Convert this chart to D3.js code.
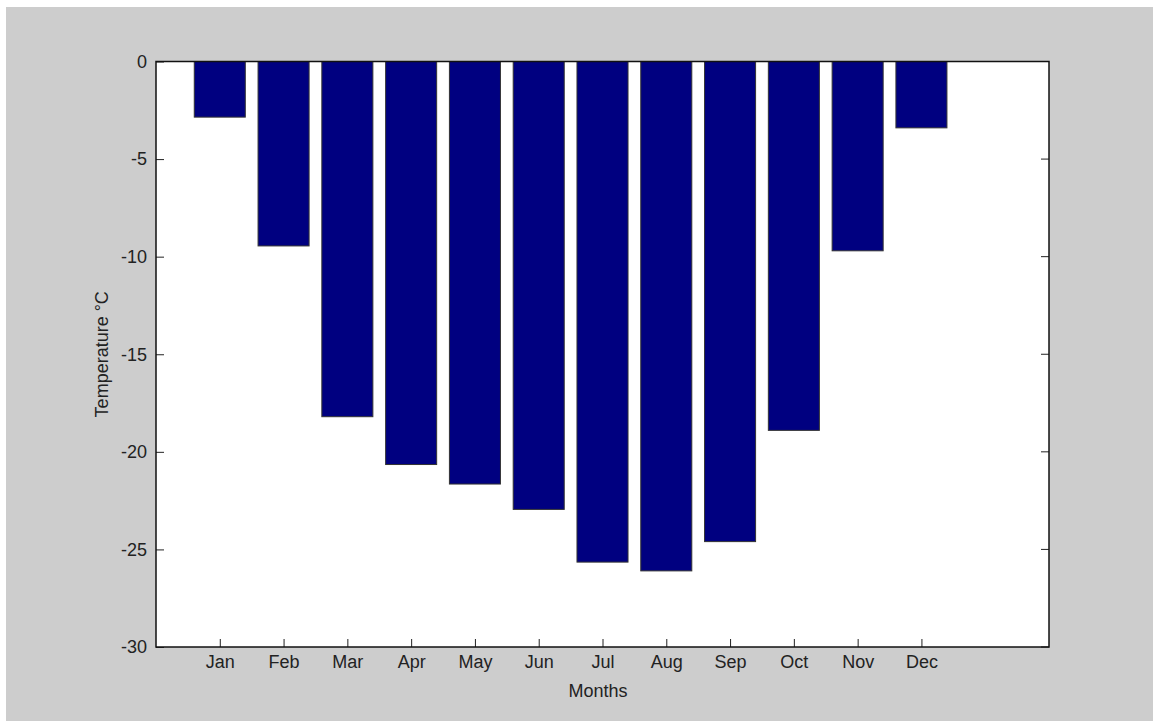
<!DOCTYPE html>
<html>
<head>
<meta charset="utf-8">
<script src="https://cdn.jsdelivr.net/npm/d3@7"></script>
<style>
  body { margin: 0; background: #fff; }
  svg { display: block; }
  text { font-family: "Liberation Sans", Arial, sans-serif; fill: #222; }
</style>
</head>
<body>
<div id="viz"></div>
<script>
const months = ['Jan', 'Feb', 'Mar', 'Apr', 'May', 'Jun', 'Jul', 'Aug', 'Sep', 'Oct', 'Nov', 'Dec'];
const temps = [-2.85, -9.45, -18.2, -20.65, -21.65, -22.95, -25.65, -26.1, -24.6, -18.9, -9.7, -3.4];
const yTicks = [0, -5, -10, -15, -20, -25, -30];

const width = 1153;
const height = 721;
const margin = {top: 61.5, right: 104, bottom: 74, left: 156};

const svg = d3.select('#viz')
    .append('svg')
    .attr('width', width)
    .attr('height', height);

// grey figure background (white strip top/left like the screenshot)
svg.append('rect')
    .attr('x', 6).attr('y', 7)
    .attr('width', width - 6).attr('height', height - 7)
    .attr('fill', '#cdcdcd');

// x positions 1..12 on a 0..14 axis
const x = d3.scaleLinear()
    .domain([0, 14])
    .range([margin.left, width - margin.right]);

const y = d3.scaleLinear()
    .domain([-30, 0])
    .range([height - margin.bottom, margin.top]);

const barW = (x(1) - x(0)) * 0.8;
const tickLen = 8;

// plot area
svg.append('rect')
    .attr('x', x(0)).attr('y', y(0))
    .attr('width', x(14) - x(0)).attr('height', y(-30) - y(0))
    .attr('fill', '#fff');

// top ticks sit under the bars
svg.append('g')
    .selectAll('line')
    .data(months)
    .join('line')
    .attr('x1', (d, i) => x(i + 1)).attr('x2', (d, i) => x(i + 1))
    .attr('y1', y(0)).attr('y2', y(0) + tickLen)
    .attr('stroke', '#222');

// bars
svg.append('g')
    .selectAll('rect')
    .data(temps)
    .join('rect')
    .attr('x', (d, i) => x(i + 1) - barW / 2)
    .attr('y', y(0))
    .attr('width', barW)
    .attr('height', d => y(d) - y(0))
    .attr('fill', '#000080')
    .attr('stroke', '#333')
    .attr('stroke-width', 1);

// bottom axis, ticks pointing in
const xAxis = svg.append('g')
    .attr('transform', `translate(0, ${y(-30)})`)
    .call(d3.axisBottom(x)
        .tickValues(d3.range(1, 13))
        .tickFormat(d => months[d - 1])
        .tickSizeInner(-tickLen)
        .tickSizeOuter(0)
        .tickPadding(8));
xAxis.select('.domain').remove();
xAxis.selectAll('.tick line').attr('stroke', '#222');
xAxis.selectAll('.tick text')
    .style('font-size', '18px')
    .attr('font-family', null);

// left axis, plain hyphen minus like the original
const yAxis = svg.append('g')
    .attr('transform', `translate(${x(0)}, 0)`)
    .call(d3.axisLeft(y)
        .tickValues(yTicks)
        .tickFormat(d => String(d))
        .tickSizeInner(-tickLen)
        .tickSizeOuter(0)
        .tickPadding(9));
yAxis.select('.domain').remove();
yAxis.selectAll('.tick line').attr('stroke', '#222');
yAxis.selectAll('.tick text')
    .style('font-size', '18px')
    .attr('font-family', null);

// right side ticks
svg.append('g')
    .selectAll('line')
    .data(yTicks)
    .join('line')
    .attr('x1', x(14)).attr('x2', x(14) - tickLen)
    .attr('y1', d => y(d)).attr('y2', d => y(d))
    .attr('stroke', '#222');

// box
svg.append('rect')
    .attr('x', x(0)).attr('y', y(0))
    .attr('width', x(14) - x(0)).attr('height', y(-30) - y(0))
    .attr('fill', 'none')
    .attr('stroke', '#111')
    .attr('stroke-width', 1.5);

// axis titles
svg.append('text')
    .attr('x', 598)
    .attr('y', 697)
    .attr('text-anchor', 'middle')
    .style('font-size', '18px')
    .text('Months');

svg.append('text')
    .attr('transform', `translate(108, ${(y(0) + y(-30)) / 2}) rotate(-90)`)
    .attr('text-anchor', 'middle')
    .style('font-size', '18px')
    .text('Temperature °C');
</script>
</body>
</html>
